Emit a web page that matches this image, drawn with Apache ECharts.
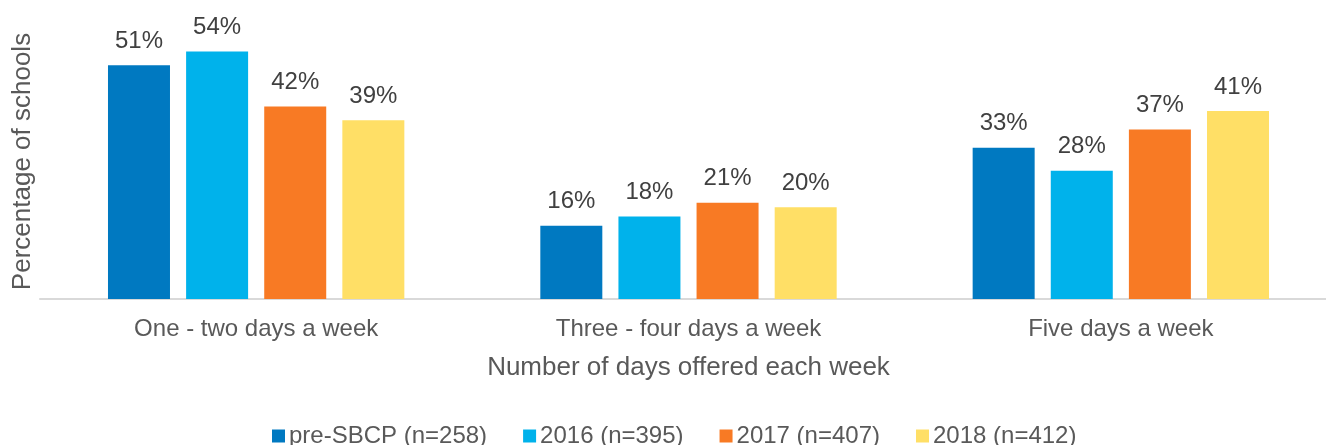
<!DOCTYPE html>
<html>
<head>
<meta charset="utf-8">
<script src="https://cdn.jsdelivr.net/npm/echarts@6/dist/echarts.min.js"></script>
<style>
    html, body { margin: 0; padding: 0; background: #fff; }
    .chart { width: 1326px; height: 445px; }
</style>
</head>
<body>
<div class="chart"></div>
<script>
const categories = ['One - two days a week', 'Three - four days a week', 'Five days a week']
const seriesNames = ['pre-SBCP (n=258)', '2016 (n=395)', '2017 (n=407)', '2018 (n=412)']
const preSBCP = [51, 16, 33]
const y2016 = [54, 18, 28]
const y2017 = [42, 21, 37]
const y2018 = [39, 20, 41]

;(function () {
    const dom = document.querySelector('.chart')
    const echartsInstance = echarts.init(dom)
    const font = 'Liberation Sans, Arial, sans-serif'
    const colors = ['#0079c1', '#00b2eb', '#f87a24', '#ffdf66']

    function makeSeries(name, data) {
        return {
            name: name,
            type: 'bar',
            data: data,
            barWidth: 62,
            barGap: '26%',
            label: {
                show: true,
                position: 'top',
                distance: 12,
                formatter: '{c}%',
                color: '#404040',
                fontSize: 24,
                fontFamily: font
            }
        }
    }

    const option = {
        color: colors,
        animation: false,
        grid: {
            left: 40,
            width: 1297,
            top: 24,
            bottom: 146,
            outerBoundsMode: 'none'
        },
        legend: {
            bottom: -8,
            left: 267,
            icon: 'rect',
            itemWidth: 13,
            itemHeight: 13,
            itemGap: 36,
            textStyle: {
                color: '#595959',
                fontSize: 24,
                fontFamily: font,
                padding: [0, 0, 0, -1]
            }
        },
        xAxis: {
            type: 'category',
            data: categories,
            name: 'Number of days offered each week',
            nameLocation: 'middle',
            nameGap: 56,
            nameTextStyle: {
                color: '#595959',
                fontSize: 26,
                fontFamily: font
            },
            axisTick: { show: false },
            axisLine: {
                lineStyle: { color: '#d9d9d9', width: 2 }
            },
            axisLabel: {
                color: '#595959',
                fontSize: 24,
                fontFamily: font,
                margin: 18
            }
        },
        yAxis: {
            type: 'value',
            min: 0,
            max: 60,
            name: 'Percentage of schools',
            nameLocation: 'middle',
            nameGap: 4,
            nameTextStyle: {
                color: '#595959',
                fontSize: 26,
                fontFamily: font
            },
            axisLine: { show: false },
            axisTick: { show: false },
            axisLabel: { show: false },
            splitLine: { show: false }
        },
        series: [
            makeSeries(seriesNames[0], preSBCP),
            makeSeries(seriesNames[1], y2016),
            makeSeries(seriesNames[2], y2017),
            makeSeries(seriesNames[3], y2018)
        ]
    }

    echartsInstance.setOption(option)
    window.addEventListener('resize', () => {
        echartsInstance.resize()
    })
})()
</script>
</body>
</html>
